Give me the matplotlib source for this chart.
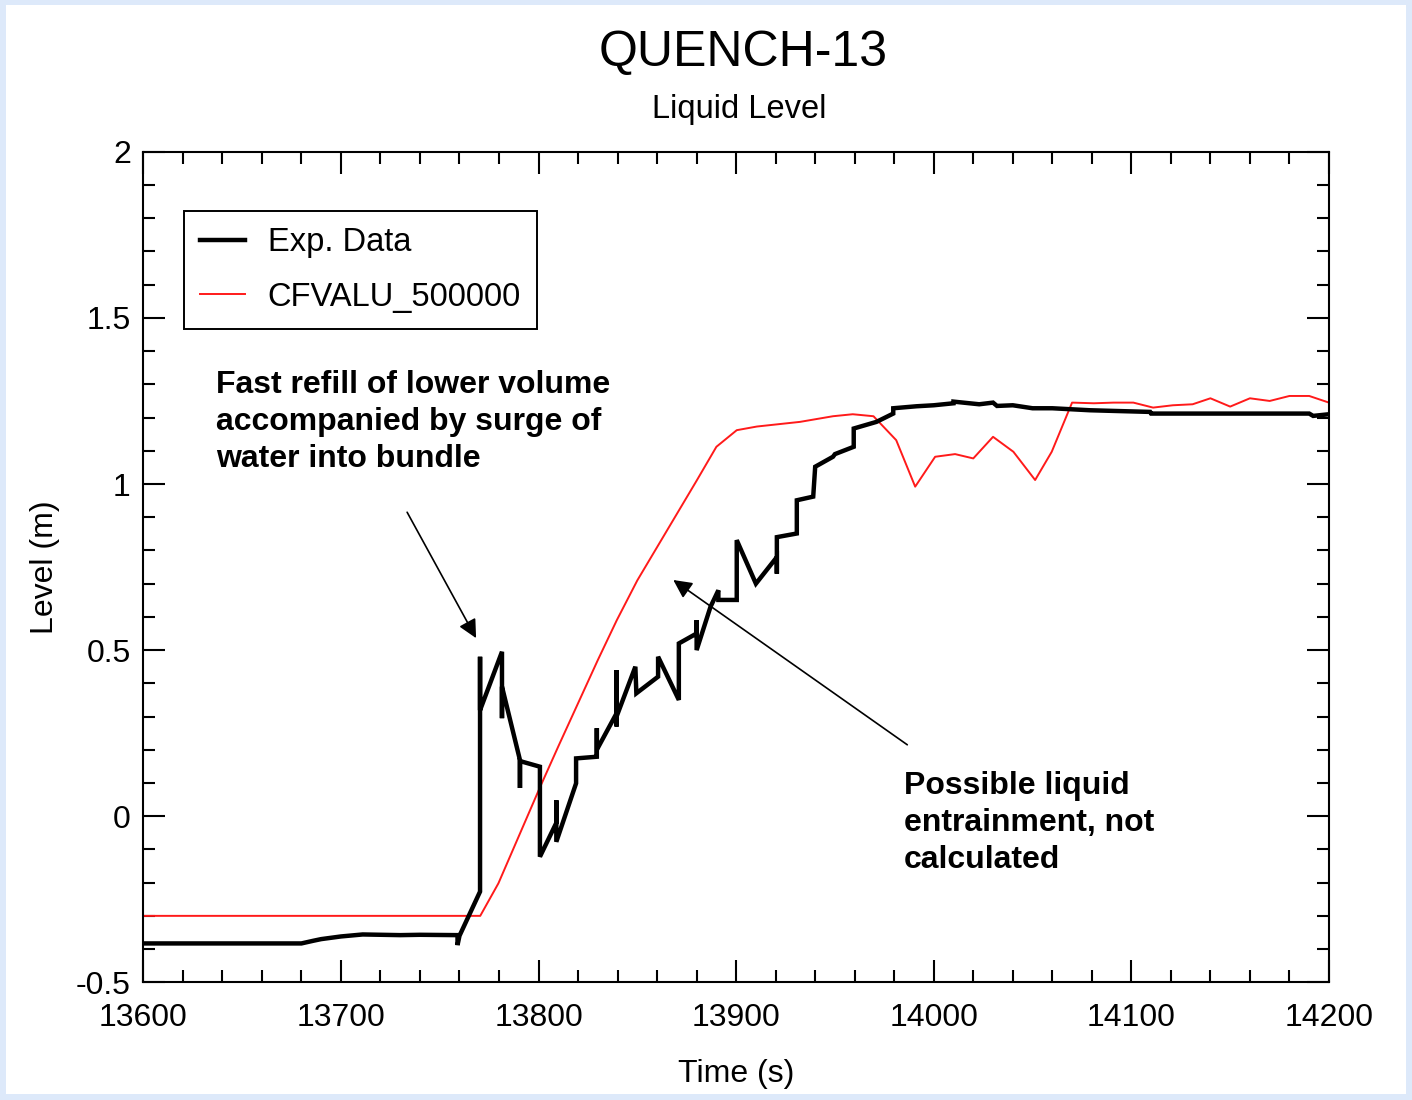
import matplotlib
matplotlib.use('Agg')
import matplotlib.pyplot as plt
from matplotlib.ticker import MultipleLocator, FuncFormatter
from matplotlib.patches import Rectangle

plt.rcParams['font.family'] = ['Liberation Sans', 'DejaVu Sans']

# experimental liquid level (m) vs time (s)
exp_t = [13600, 13680, 13686, 13690, 13700, 13711, 13730, 13740, 13759, 13759,
         13760, 13770.4, 13770.4, 13770.4, 13781.5, 13781.5, 13781.5, 13790.6, 13790.6, 13790.6,
         13800.7, 13800.7, 13809, 13809, 13809, 13819, 13819, 13829.5, 13829.5, 13829.5,
         13839.5, 13839.5, 13839.5, 13839.5, 13849, 13849.5, 13860.5, 13860.5, 13871, 13871,
         13880, 13880, 13880, 13887, 13891, 13891, 13900.3, 13900.3, 13910, 13920.6,
         13920.6, 13920.6, 13930.7, 13930.7, 13939, 13940, 13949, 13950, 13959.5, 13959.5,
         13971, 13979.5, 13979.5, 13991.3, 14000, 14010, 14010, 14023, 14030, 14032,
         14040, 14050, 14060, 14079, 14091, 14109.5, 14110, 14150, 14190, 14192, 14200]
exp_lvl = [-0.383, -0.383, -0.375, -0.370, -0.362, -0.356, -0.358, -0.357, -0.358, -0.388,
           -0.360, -0.227, 0.480, 0.319, 0.495, 0.295, 0.390, 0.169, 0.085, 0.166,
           0.149, -0.122, -0.020, 0.048, -0.077, 0.099, 0.174, 0.179, 0.265, 0.200,
           0.310, 0.440, 0.270, 0.300, 0.450, 0.370, 0.420, 0.480, 0.350, 0.520,
           0.550, 0.590, 0.500, 0.630, 0.680, 0.651, 0.651, 0.831, 0.700, 0.780,
           0.730, 0.840, 0.851, 0.951, 0.962, 1.052, 1.082, 1.090, 1.112, 1.167,
           1.187, 1.212, 1.228, 1.234, 1.237, 1.243, 1.248, 1.240, 1.245, 1.235,
           1.237, 1.228, 1.228, 1.222, 1.220, 1.217, 1.212, 1.212, 1.212, 1.205, 1.210]

# MELCOR result, CFVALU_500000
calc_t = [13600, 13770.5, 13779.7, 13800.8, 13810, 13820, 13830, 13839.6, 13850, 13860,
          13870, 13880, 13890, 13900.3, 13910.5, 13932.3, 13949, 13959, 13969.5, 13981,
          13990.6, 14000.7, 14010.8, 14020, 14030, 14040.3, 14051.3, 14059.7, 14070, 14081,
          14091, 14101, 14111, 14121, 14131, 14140, 14150, 14160, 14170, 14180,
          14190, 14200]
calc_lvl = [-0.300, -0.300, -0.202, 0.088, 0.210, 0.340, 0.470, 0.590, 0.710, 0.810,
            0.910, 1.010, 1.112, 1.162, 1.173, 1.187, 1.204, 1.210, 1.204, 1.132,
            0.992, 1.082, 1.090, 1.077, 1.142, 1.097, 1.012, 1.097, 1.245, 1.243,
            1.245, 1.245, 1.230, 1.237, 1.240, 1.258, 1.233, 1.258, 1.250, 1.265,
            1.265, 1.245]

note_refill = 'Fast refill of lower volume\naccompanied by surge of\nwater into bundle'
note_entrain = 'Possible liquid\nentrainment, not\ncalculated'

fig = plt.figure(figsize=(14.12, 11.0), dpi=100)
fig.patch.set_facecolor('#dde9fa')
fig.patches.append(Rectangle((6 / 1412, 6 / 1100), 1 - 12 / 1412, 1 - 11 / 1100,
                             transform=fig.transFigure, facecolor='white',
                             edgecolor='none', zorder=-10))

ax = fig.add_axes([0.1015, 0.107, 0.8397, 0.755])
ax.set_facecolor('none')

ax.plot(calc_t, calc_lvl, color='#ff1a1a', lw=1.4, label='CFVALU_500000', zorder=2)
ax.plot(exp_t, exp_lvl, color='black', lw=3.2, solid_joinstyle='miter',
        label='Exp. Data', zorder=3)

ax.set_xlim(13600, 14200)
ax.set_ylim(-0.5, 2)

# axes, ticks
ax.xaxis.set_major_locator(MultipleLocator(100))
ax.xaxis.set_minor_locator(MultipleLocator(20))
ax.yaxis.set_major_locator(MultipleLocator(0.5))
ax.yaxis.set_minor_locator(MultipleLocator(0.1))
ax.yaxis.set_major_formatter(FuncFormatter(lambda v, p: '%g' % v))
ax.tick_params(which='both', direction='in', top=True, right=True, width=1.5)
ax.tick_params(which='major', length=16, labelsize=23)
ax.tick_params(axis='x', which='major', pad=15)
ax.tick_params(axis='y', which='major', pad=9)
ax.tick_params(which='minor', length=8.5)
for s in ax.spines.values():
    s.set_linewidth(1.5)

ax.set_xlabel('Time (s)', fontsize=23)
ax.xaxis.set_label_coords(0.5, -0.092)
ax.set_ylabel('Level (m)', fontsize=23)
ax.yaxis.set_label_coords(-0.070, 0.5)

fig.text(0.5265, 0.94, 'QUENCH-13', fontsize=36, ha='center', va='baseline')
fig.text(0.5237, 0.8925, 'Liquid Level', fontsize=23.5, ha='center', va='baseline')

handles, labels = ax.get_legend_handles_labels()
leg = ax.legend(handles[::-1], labels[::-1], loc='upper left',
                bbox_to_anchor=(0.0343, 0.9286), borderaxespad=0,
                fontsize=23.5, fancybox=False, framealpha=1, edgecolor='black',
                handlelength=1.36, handletextpad=0.7, labelspacing=0.72,
                borderpad=0.5)
leg.get_frame().set_linewidth(1.4)

# notes with arrows
ax.text(13636.8, 1.343, note_refill, fontsize=23, fontweight='bold',
        ha='left', va='top', linespacing=1.3)
ax.annotate('', xy=(13768.4, 0.536), xytext=(13733.5, 0.915),
            arrowprops=dict(arrowstyle='-|>', color='black', lw=1.2,
                            mutation_scale=28, shrinkA=0, shrinkB=0))
ax.text(13984.9, 0.135, note_entrain, fontsize=23, fontweight='bold',
        ha='left', va='top', linespacing=1.3)
ax.annotate('', xy=(13868.2, 0.711), xytext=(13986.6, 0.215),
            arrowprops=dict(arrowstyle='-|>', color='black', lw=1.2,
                            mutation_scale=28, shrinkA=0, shrinkB=0))

fig.savefig('out.png', dpi=100)
